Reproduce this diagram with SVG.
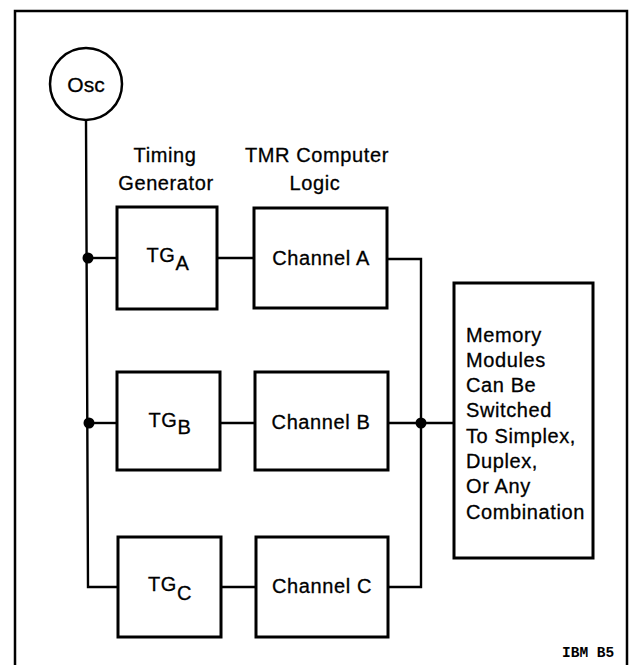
<svg xmlns="http://www.w3.org/2000/svg" width="634" height="665" viewBox="0 0 634 665">
<style>
.box{fill:#fff;stroke:#000;stroke-width:3}
.osc{fill:#fff;stroke:#000;stroke-width:2.5}
.wire{fill:none;stroke:#000;stroke-width:2.4}
.dot{fill:#000}
.t{font-family:"Liberation Sans",Arial,sans-serif;font-size:20px;fill:#000;stroke:#000;stroke-width:0.3;letter-spacing:0.6px}
.m{text-anchor:middle}
.ibm{font-family:"Liberation Mono","Courier New",monospace;font-size:14.5px;font-weight:bold;fill:#000}
</style>
<rect width="634" height="665" fill="#fff"/>
<path d="M15,665 V11 H627 V665" fill="none" stroke="#000" stroke-width="2.5"/>
<g id="connectors">
<path class="wire" d="M86,120 L88,587 H118"/>
<path class="wire" d="M88,258 H117"/>
<path class="wire" d="M89,423 H117"/>
<path class="wire" d="M218,258 H254"/>
<path class="wire" d="M220,423 H255"/>
<path class="wire" d="M221,587 H256"/>
<path class="wire" d="M387,259 H421 V587 H388"/>
<path class="wire" d="M388,423 H454"/>
<circle class="dot" cx="88" cy="258" r="5.5"/>
<circle class="dot" cx="89" cy="423" r="5.5"/>
<circle class="dot" cx="421" cy="423" r="5.5"/>
</g>
<g id="osc">
<circle class="osc" cx="86" cy="84" r="36"/>
<text class="t m" x="86" y="92" style="letter-spacing:0;font-size:21px">Osc</text>
</g>
<g id="label-timing">
<text class="t m" x="165" y="162">Timing</text>
<text class="t m" x="166" y="190">Generator</text>
</g>
<g id="label-tmr">
<text class="t m" x="317" y="162">TMR Computer</text>
<text class="t m" x="315" y="190">Logic</text>
</g>
<g id="tga">
<rect class="box" x="117" y="207" width="100" height="102"/>
<text class="t m" x="168" y="262">TG<tspan dy="8">A</tspan></text>
</g>
<g id="tgb">
<rect class="box" x="117" y="372" width="103" height="98"/>
<text class="t m" x="170" y="427">TG<tspan dy="7">B</tspan></text>
</g>
<g id="tgc">
<rect class="box" x="118" y="537" width="103" height="100"/>
<text class="t m" x="170" y="591">TG<tspan dy="9">C</tspan></text>
</g>
<g id="channel-a">
<rect class="box" x="254" y="208" width="133" height="100"/>
<text class="t m" x="321" y="265">Channel A</text>
</g>
<g id="channel-b">
<rect class="box" x="255" y="372" width="133" height="98"/>
<text class="t m" x="321" y="429">Channel B</text>
</g>
<g id="channel-c">
<rect class="box" x="256" y="537" width="132" height="100"/>
<text class="t m" x="322" y="593">Channel C</text>
</g>
<g id="memory">
<rect class="box" x="454" y="283" width="139" height="275"/>
<text class="t" x="466" y="342">Memory</text>
<text class="t" x="466" y="367">Modules</text>
<text class="t" x="466" y="392">Can Be</text>
<text class="t" x="466" y="417">Switched</text>
<text class="t" x="466" y="443">To Simplex,</text>
<text class="t" x="466" y="468">Duplex,</text>
<text class="t" x="466" y="493">Or Any</text>
<text class="t" x="466" y="519">Combination</text>
</g>
<text class="ibm" x="562" y="657">IBM B5</text>
</svg>
